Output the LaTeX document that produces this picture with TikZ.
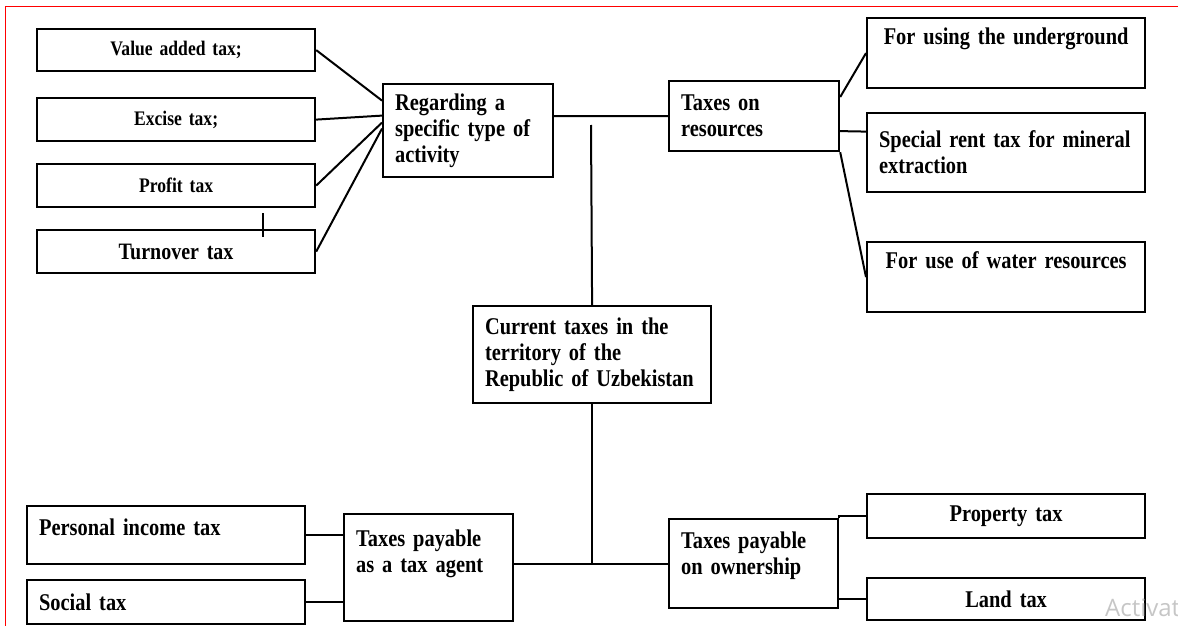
\documentclass[tikz,border=0pt]{standalone}
\usepackage{fontspec}
\setmainfont{Liberation Serif}[FakeStretch=0.85]
\newfontfamily\wmfont{Open Sans}

\begin{document}
\begin{tikzpicture}[x=1pt, y=-1pt,
    box/.style={draw, line width=2.2pt, anchor=north west, inner ysep=0pt,
        font=\bfseries\fontsize{24}{26}\selectfont},
    lbox/.style={box, align=left, inner xsep=12pt},
    cbox/.style={box, align=center, inner xsep=6pt},
    small/.style={font=\bfseries\fontsize{20.7}{22}\selectfont},
    link/.style={line width=2pt}]
    \useasboundingbox (0,0) rectangle (1178,626);
    \draw[red, line width=1.3pt] (1178,6.5) -- (5.5,6.5) -- (5.5,626);
    \path (36,28) node[cbox, small, text width=266pt, minimum height=42pt](vat){Value added tax;}
        (36,97) node[cbox, small, text width=266pt, minimum height=43pt](excise){Excise tax;}
        (36,163) node[cbox, small, text width=266pt, minimum height=43pt](profit){Profit tax}
        (36,229) node[cbox, font=\bfseries\fontsize{23.5}{25}\selectfont, text width=266pt, minimum height=43pt](turnover){Turnover tax}
        (382,83) node[lbox, text width=146pt, minimum height=93pt](activity){Regarding a\\specific type of\\activity}
        (668,80) node[lbox, text width=146pt, minimum height=70pt](resources){Taxes on\\resources}
        (866,17) node[cbox, text width=266pt, minimum height=70pt](under){For using the underground\\\strut}
        (866,112) node[lbox, text width=254pt, minimum height=79pt](rent){\mbox{Special rent tax for mineral}\\extraction}
        (866,241) node[cbox, text width=266pt, minimum height=70pt](water){For use of water resources\\\strut}
        (472,305) node[lbox, text width=214pt, minimum height=97pt](central){Current taxes in the\\territory of the\\\mbox{Republic of Uzbekistan}}
        (26,505) node[lbox, text width=254pt, minimum height=58pt](personal){Personal income tax\\[-18pt]\strut}
        (26,579) node[lbox, text width=254pt, minimum height=44pt](social){Social tax}
        (343,513) node[lbox, text width=145pt, minimum height=107pt](agent){Taxes payable\\as a tax agent\\\strut}
        (668,518) node[lbox, text width=145pt, minimum height=89pt](ownership){Taxes payable\\on ownership\\[-12pt]\strut}
        (866,493) node[cbox, text width=266pt, minimum height=44pt](property){Property tax}
        (866,577) node[cbox, text width=266pt, minimum height=42pt](land){Land tax};
    \coordinate (gap) at (591,125);
    \draw[link] (vat.east) -- ([yshift=30pt]activity.west) (excise.east) -- ([yshift=15pt]activity.west)
        (profit.east) -- ([yshift=8pt]activity.west) (turnover.east) -- ([yshift=2pt]activity.west);
    \draw[link] (resources.west) -- (resources.west -| activity.east) (central.north) -- (gap);
    \draw[link] ([yshift=-17pt]resources.north east) -- (under.west)
        ([yshift=-15pt]resources.east) -- ([yshift=21pt]rent.west) (resources.south east) -- (water.west);
    \draw[link] (central.south) -- (central.south |- ownership.west) (agent.east |- ownership.west) -- (ownership.west);
    \draw[link] (personal.east) -- (personal.east -| agent.west) (social.east) -- (social.east -| agent.west);
    \draw[link] (ownership.north east) |- (property.west) (land.west) -- (land.west -| ownership.east);
    \draw[line width=1.2pt] (263,213) -- (263,237);
    \node[anchor=base west, inner sep=0pt, text=gray!45, font=\wmfont\fontsize{24}{28}\selectfont] (activat) at (1105,616) {Activat};
\end{tikzpicture}
\end{document}
